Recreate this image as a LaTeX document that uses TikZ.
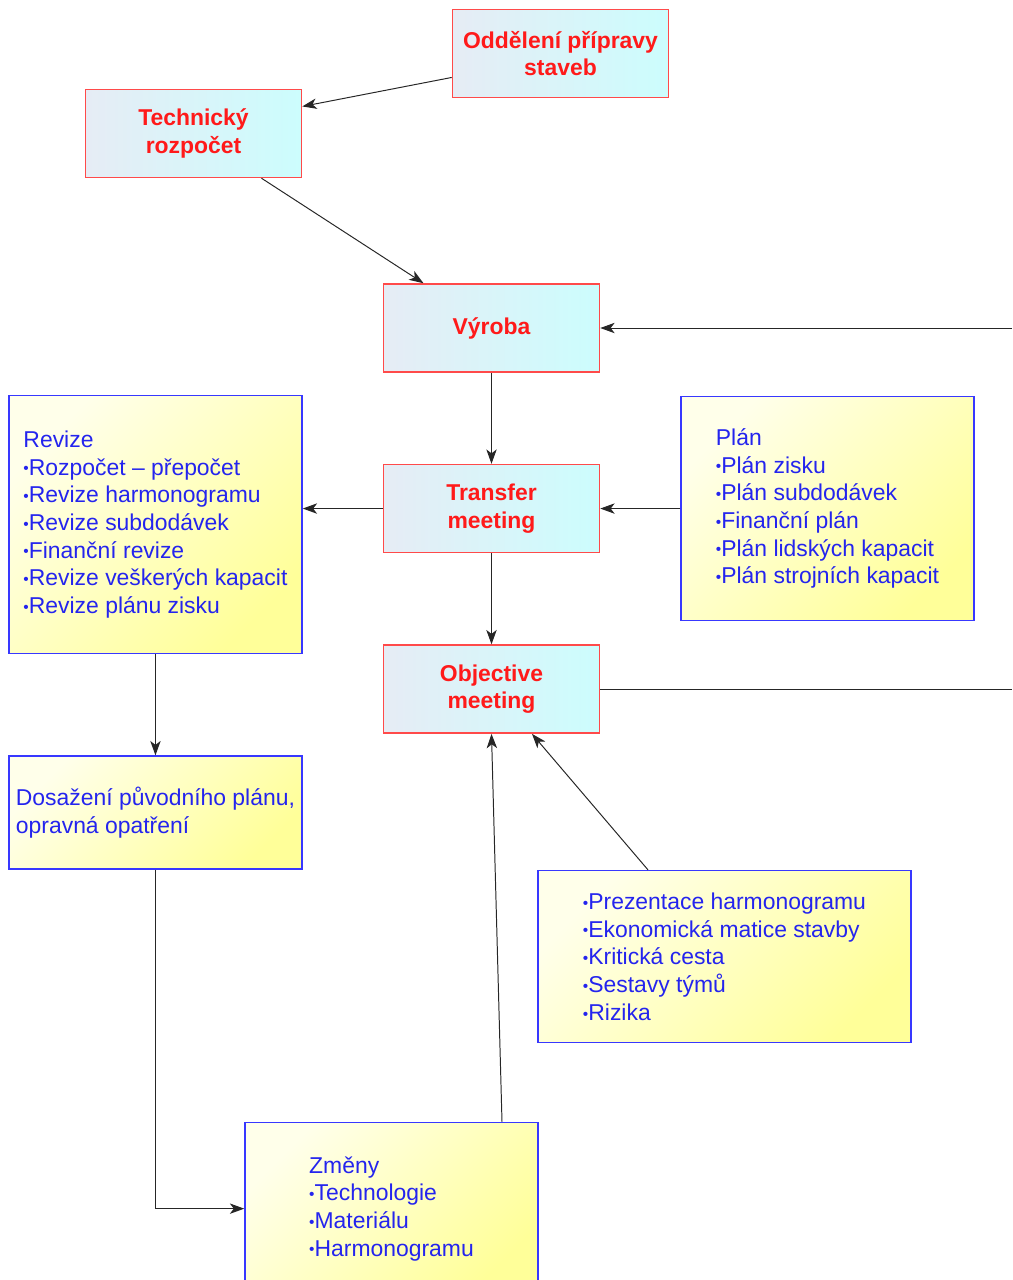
\documentclass[tikz,border=0pt]{standalone}
\usepackage{fontspec}
\setmainfont{Liberation Sans}
\usetikzlibrary{positioning,arrows.meta}

\definecolor{redline}{HTML}{FF4A4A}
\definecolor{redtext}{HTML}{FF1A1A}
\definecolor{blueline}{HTML}{3838FF}
\definecolor{bluetext}{HTML}{2424EE}
\definecolor{grayfill}{HTML}{E6ECF5}
\definecolor{cyanfill}{HTML}{CCFDFD}
\definecolor{paleyel}{HTML}{FFFFEA}
\definecolor{deepyel}{HTML}{FFFF99}

\newcommand{\itm}{{\fontsize{11}{11}\selectfont\raisebox{0.15ex}{•}}}

\tikzset{
  dept/.style={draw=redline, line width=1.1pt, left color=grayfill, right color=cyanfill,
    minimum width=5.4cm, minimum height=2.2cm, align=center, text=redtext,
    font=\bfseries\fontsize{16.3}{19.7}\selectfont},
  note/.style={draw=blueline, line width=1.1pt, left color=paleyel, right color=deepyel,
    shading angle=45, minimum width=7.325cm, inner sep=2pt, align=left, text=bluetext,
    font=\fontsize{16.3}{19.7}\selectfont},
  link/.style={-{Stealth[length=3.6mm,width=2.6mm,inset=1mm]}, line width=0.7pt, draw=black!85},
  plain/.style={line width=0.7pt, draw=black!85},
}

\begin{document}
\begin{tikzpicture}
\useasboundingbox (0,0) rectangle (25.3,-32);

% Define nodes
\node[dept] (vyroba) at (12.2875,-8.2) {Výroba};
\node[dept, below=2.275cm of vyroba]   (transfer) {Transfer\\meeting};
\node[dept, below=2.275cm of transfer] (objective) {Objective\\meeting};
\node[dept, above=2.625cm of vyroba, xshift=-7.45cm] (rozpocet) {Technický\\rozpočet};
\node[dept, above=4.625cm of vyroba, xshift=1.725cm] (priprava) {Oddělení přípravy\\staveb};

\node[note, left=2cm of transfer, yshift=-0.4cm, minimum height=6.45cm] (revize)
  {Revize\\\itm Rozpočet – přepočet\\\itm Revize harmonogramu\\\itm Revize subdodávek\\\itm Finanční revize\\\itm Revize veškerých kapacit\\\itm Revize plánu zisku};
\node[note, right=2cm of transfer, minimum height=5.6cm] (plan)
  {Plán\\\itm Plán zisku\\\itm Plán subdodávek\\\itm Finanční plán\\\itm Plán lidských kapacit\\\itm Plán strojních kapacit};
\node[note, below=2.525cm of revize, minimum height=2.825cm] (dosazeni)
  {Dosažení původního plánu,\\opravná opatření};
\node[note, below=3.4cm of objective, xshift=5.825cm, minimum width=9.325cm, minimum height=4.3cm] (podklady)
  {\itm Prezentace harmonogramu\\\itm Ekonomická matice stavby\\\itm Kritická cesta\\\itm Sestavy týmů\\\itm Rizika};
\node[note, below=9.7cm of objective, xshift=-2.5cm, minimum height=4.3cm] (zmeny)
  {Změny\\\itm Technologie\\\itm Materiálu\\\itm Harmonogramu};

\coordinate (rim) at (25.3,0);

% Connect the nodes
\draw[link] ([yshift=-0.6cm]priprava.west) -- ([yshift=0.675cm]rozpocet.east);
\draw[link] ([xshift=1.7cm]rozpocet.south) -- ([xshift=-1.7cm]vyroba.north);
\draw[link] (vyroba.east -| rim) -- (vyroba.east);
\draw[link] (vyroba) -- (transfer);
\draw[link] (transfer.west) -- (transfer.west -| revize.east);
\draw[link] (plan.west) -- (transfer.east);
\draw[link] (transfer) -- (objective);
\draw[plain] (objective.east) -- (objective.east -| rim);
\draw[link] (revize) -- (dosazeni);
\draw[link] (dosazeni.south) |- (zmeny.west);
\draw[link] ([xshift=2.7625cm]zmeny.north) -- (objective.south);
\draw[link] ([xshift=-1.9125cm]podklady.north) -- ([xshift=1.0125cm]objective.south);

\end{tikzpicture}
\end{document}
